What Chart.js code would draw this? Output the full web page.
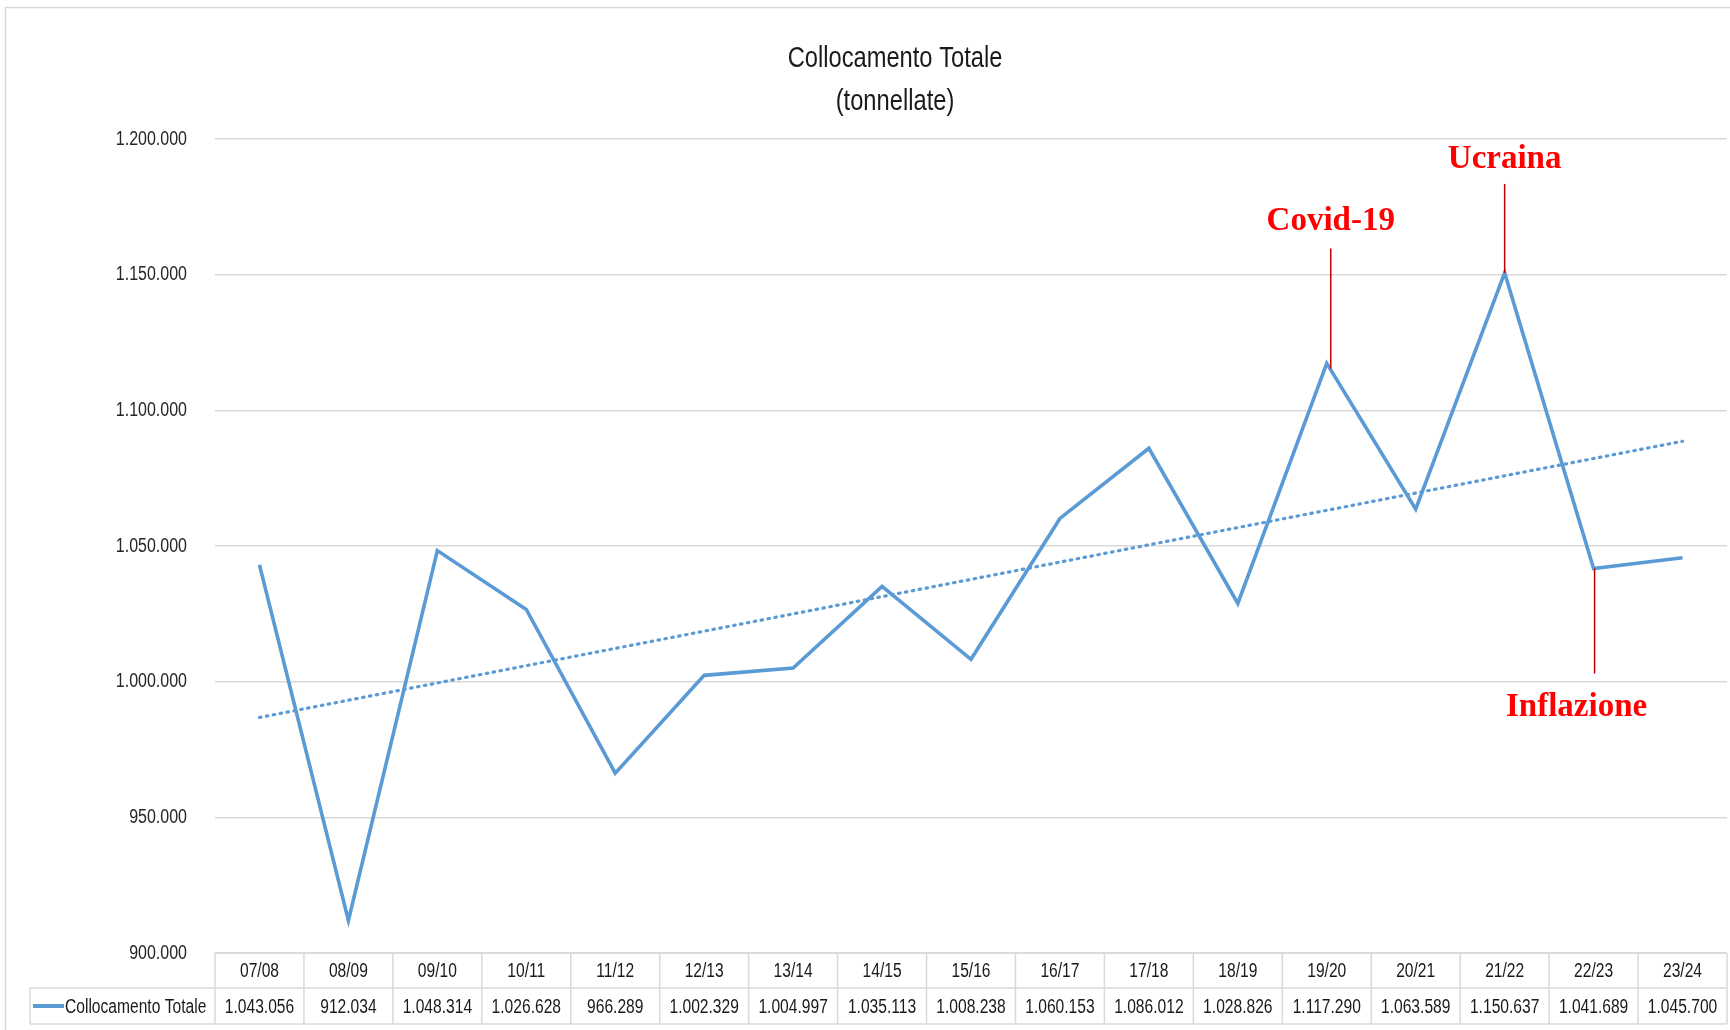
<!DOCTYPE html>
<html>
<head>
<meta charset="utf-8">
<script src="https://cdn.jsdelivr.net/npm/chart.js@4"></script>
<style>
  html, body { margin: 0; padding: 0; background: #fff; }
  #wrap { width: 1730px; height: 1030px; }
</style>
</head>
<body>
<div id="wrap"><canvas id="c" width="1730" height="1030"></canvas></div>
<script>
// ---- data ----
const categories = ['07/08','08/09','09/10','10/11','11/12','12/13','13/14','14/15','15/16','16/17','17/18','18/19','19/20','20/21','21/22','22/23','23/24'];
const collocamentoTotale = [1043056, 912034, 1048314, 1026628, 966289, 1002329, 1004997, 1035113, 1008238, 1060153, 1086012, 1028826, 1117290, 1063589, 1150637, 1041689, 1045700];
const trendEnds = [986800, 1088600]; // linear trendline, first and last category
const yTicks = [900000, 950000, 1000000, 1050000, 1100000, 1150000, 1200000];
const seriesName = 'Collocamento Totale';
const titleLines = ['Collocamento Totale', '(tonnellate)'];
const annotationLabels = ['Covid-19', 'Ucraina', 'Inflazione'];
const annotationCategories = ['19/20', '21/22', '22/23'];

// ---- helpers ----
const SANS = "'Liberation Sans', Arial, sans-serif";
const SERIF = "'Liberation Serif', 'DejaVu Serif', serif";
const fmt = v => String(v).replace(/\B(?=(\d{3})+(?!\d))/g, '.');
const trendData = categories.map((c, i) => i === 0 ? trendEnds[0] : (i === categories.length - 1 ? trendEnds[1] : null));

// draws condensed text (Calibri-like width) as real canvas text
function narrowText(ctx, text, x, y, size, sx, align, color) {
  ctx.save();
  ctx.font = size + 'px ' + SANS;
  ctx.fillStyle = color || '#1a1a1a';
  ctx.textBaseline = 'middle';
  ctx.textAlign = align;
  ctx.translate(x, y);
  ctx.scale(sx, 1);
  ctx.fillText(text, 0, 0);
  ctx.restore();
}

// annotation layout (pixel offsets relative to the data point)
const annoLayout = [
  { dx: 4, lineTop: -115, lineBottom: 5, textDx: 4, textBase: -133 },
  { dx: 0, lineTop: -89, lineBottom: 0, textDx: 0, textBase: -105 },
  { dx: 1, lineTop: 0, lineBottom: 105, textDx: -17, textBase: 147 }
];

const framePlugin = {
  id: 'frame',
  beforeDraw(chart) {
    const ctx = chart.ctx;
    ctx.save();
    ctx.fillStyle = '#fff';
    ctx.fillRect(0, 0, chart.width, chart.height);
    ctx.strokeStyle = '#d9d9d9';
    ctx.lineWidth = 1.5;
    ctx.strokeRect(5.5, 7.5, chart.width + 10, chart.height + 10);
    ctx.restore();
  }
};

const textPlugin = {
  id: 'customText',
  afterDraw(chart) {
    const ctx = chart.ctx;
    // title
    narrowText(ctx, titleLines[0], 895, 59, 30, 0.79, 'center', '#1a1a1a');
    narrowText(ctx, titleLines[1], 895, 102, 30, 0.79, 'center', '#1a1a1a');
    // y tick labels
    const ys = chart.scales.y;
    yTicks.forEach(v => {
      narrowText(ctx, fmt(v), 187, ys.getPixelForValue(v), 20, 0.8, 'right', '#262626');
    });
  }
};

const tablePlugin = {
  id: 'dataTable',
  afterDraw(chart) {
    const ctx = chart.ctx;
    const xs = chart.scales.x;
    const area = chart.chartArea;
    const n = categories.length;
    const w = (area.right - area.left) / n;
    const top = area.bottom, mid = top + 35, bot = top + 71;
    const legendLeft = 30;
    ctx.save();
    ctx.strokeStyle = '#d9d9d9';
    ctx.lineWidth = 1.5;
    ctx.beginPath();
    ctx.moveTo(area.left, top); ctx.lineTo(area.right, top);
    ctx.moveTo(legendLeft, mid); ctx.lineTo(area.right, mid);
    ctx.moveTo(legendLeft, bot); ctx.lineTo(area.right, bot);
    ctx.moveTo(legendLeft, mid); ctx.lineTo(legendLeft, bot);
    for (let i = 0; i <= n; i++) {
      const x = area.left + i * w;
      ctx.moveTo(x, top); ctx.lineTo(x, bot);
    }
    ctx.stroke();
    categories.forEach((c, i) => {
      const cx = xs.getPixelForValue(i);
      narrowText(ctx, c, cx, (top + mid) / 2 + 1, 20, 0.78, 'center', '#1a1a1a');
      narrowText(ctx, fmt(collocamentoTotale[i]), cx, (mid + bot) / 2 + 1, 20, 0.78, 'center', '#1a1a1a');
    });
    // legend key
    ctx.strokeStyle = '#5B9BD5';
    ctx.lineWidth = 4;
    ctx.beginPath();
    ctx.moveTo(33, (mid + bot) / 2); ctx.lineTo(64, (mid + bot) / 2);
    ctx.stroke();
    ctx.restore();
    narrowText(ctx, seriesName, 65, (mid + bot) / 2 + 1, 20, 0.78, 'left', '#1a1a1a');
  }
};

const annoPlugin = {
  id: 'annotations',
  afterDatasetsDraw(chart) {
    const ctx = chart.ctx;
    const xs = chart.scales.x, ys = chart.scales.y;
    ctx.save();
    annotationLabels.forEach((label, k) => {
      const idx = categories.indexOf(annotationCategories[k]);
      const px = xs.getPixelForValue(idx);
      const py = ys.getPixelForValue(collocamentoTotale[idx]);
      const L = annoLayout[k];
      ctx.strokeStyle = '#C00000';
      ctx.lineWidth = 1.5;
      ctx.beginPath();
      ctx.moveTo(px + L.dx, py + L.lineTop);
      ctx.lineTo(px + L.dx, py + L.lineBottom);
      ctx.stroke();
      ctx.fillStyle = '#FF0000';
      ctx.font = 'bold 33px ' + SERIF;
      ctx.textAlign = 'center';
      ctx.textBaseline = 'alphabetic';
      ctx.fillText(label, px + L.textDx, py + L.textBase);
    });
    ctx.restore();
  }
};

new Chart(document.getElementById('c'), {
  type: 'line',
  data: {
    labels: categories,
    datasets: [
      {
        label: seriesName,
        data: collocamentoTotale,
        borderColor: '#5B9BD5',
        backgroundColor: '#5B9BD5',
        borderWidth: 3.6,
        pointRadius: 0,
        tension: 0,
        borderJoinStyle: 'miter'
      },
      {
        label: 'Trend',
        data: trendData,
        spanGaps: true,
        borderColor: '#5B9BD5',
        borderWidth: 3.2,
        borderDash: [1.5, 5.5],
        borderCapStyle: 'round',
        pointRadius: 0,
        tension: 0
      }
    ]
  },
  options: {
    responsive: false,
    animation: false,
    devicePixelRatio: 1,
    layout: { padding: { top: 139, bottom: 77, left: 0, right: 3 } },
    plugins: {
      legend: { display: false },
      title: { display: false },
      tooltip: { enabled: false }
    },
    scales: {
      x: {
        type: 'category',
        offset: true,
        display: false
      },
      y: {
        min: yTicks[0],
        max: yTicks[yTicks.length - 1],
        afterFit(scale) { scale.width = 215; },
        afterBuildTicks(scale) { scale.ticks = yTicks.map(v => ({ value: v })); },
        ticks: { display: false },
        grid: { color: '#d9d9d9', lineWidth: 1.5, drawTicks: false },
        border: { display: false }
      }
    }
  },
  plugins: [framePlugin, textPlugin, tablePlugin, annoPlugin]
});
</script>
</body>
</html>
